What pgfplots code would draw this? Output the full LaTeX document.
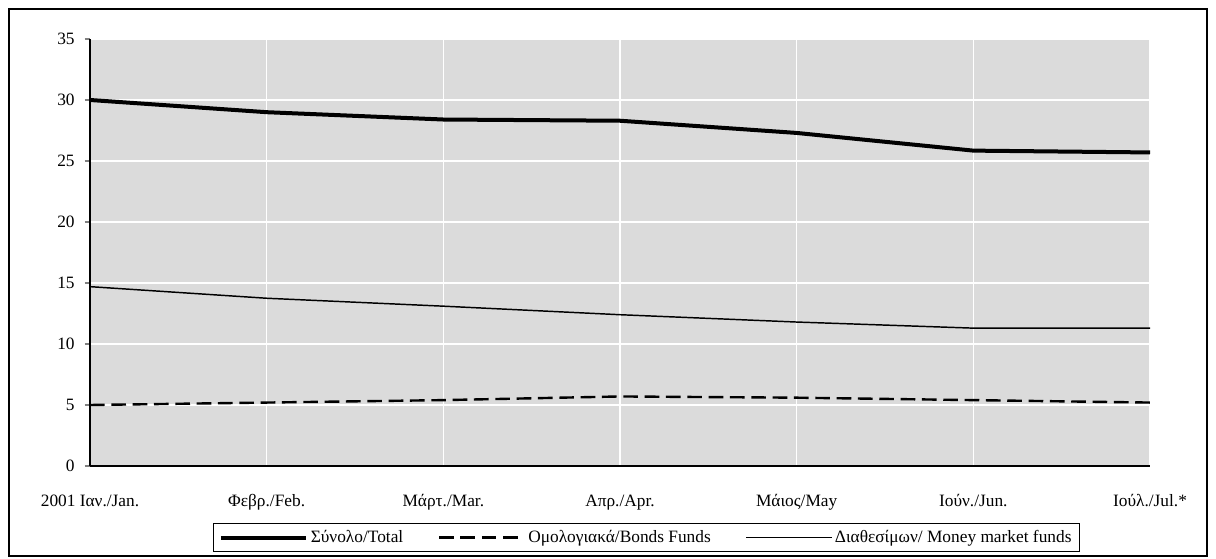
\documentclass[border=0pt]{standalone}
\usepackage{pgfplots}
\pgfplotsset{compat=1.18}
\usepackage{fontspec}
\setmainfont{Liberation Serif}

\begin{document}
\fontsize{13}{15}\selectfont
\begin{tikzpicture}
\useasboundingbox (-67.5pt,-69.75pt) rectangle (844.5pt,349.5pt);
\draw[line width=0.8pt] (-60.75pt,-67.5pt) rectangle (837.75pt,342.75pt);
\begin{axis}[
    at={(0,0)}, anchor=south west,
    scale only axis,
    width=795pt, height=320.25pt,
    xmin=0, xmax=6, ymin=0, ymax=35,
    axis lines=left,
    axis line style={-, line width=1.2pt},
    axis background/.style={fill=black!14},
    xtick={0,...,6},
    xticklabels={2001 Ιαν./Jan., Φεβρ./Feb., Μάρτ./Mar., Απρ./Apr., Μάιος/May, Ιούν./Jun., Ιούλ./Jul.*},
    xtick style={draw=none},
    xticklabel style={yshift=-13pt},
    ytick={0,5,...,35},
    ytick style={line width=1.2pt},
    tick align=outside,
    major tick length=4pt,
    yticklabel style={xshift=-3pt},
    grid=major,
    major grid style={white, line width=1pt},
    /pgf/number format/assume math mode=true,
    tick label style={font=\fontsize{13}{15}\selectfont},
    legend columns=3,
    legend style={at={(0.525,-0.1675)}, anchor=center,
        draw=black, line width=1.2pt, inner xsep=4pt, inner ysep=3pt,
        font=\fontsize{13}{15}\selectfont,
        /tikz/every even column/.append style={column sep=24pt}},
    legend image code/.code={\draw[#1] (0pt,0pt) -- (64pt,0pt);},
]
\addplot[black, line width=3pt] coordinates {
    (0,30.0) (1,29.0) (2,28.4) (3,28.3) (4,27.3) (5,25.85) (6,25.7)};
\addlegendentry{Σύνολο/Total}
\addplot[black, line width=1.8pt, dash pattern=on 11pt off 5pt] coordinates {
    (0,5.0) (1,5.2) (2,5.4) (3,5.7) (4,5.6) (5,5.4) (6,5.2)};
\addlegendentry{Ομολογιακά/Bonds Funds}
\addplot[black, line width=1.1pt] coordinates {
    (0,14.7) (1,13.75) (2,13.1) (3,12.4) (4,11.8) (5,11.3) (6,11.3)};
\addlegendentry{Διαθεσίμων/ Money market funds}
\end{axis}
\end{tikzpicture}
\end{document}
